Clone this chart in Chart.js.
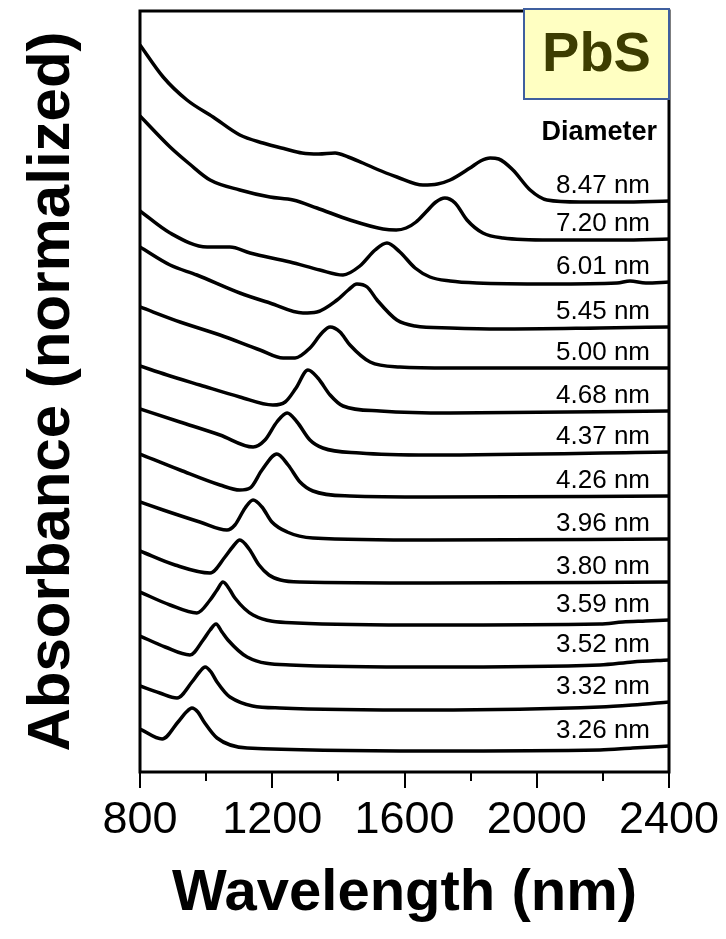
<!DOCTYPE html>
<html>
<head>
<meta charset="utf-8">
<title>PbS absorbance spectra</title>
<script src="https://cdn.jsdelivr.net/npm/chart.js@4.4.1/dist/chart.umd.min.js"></script>
<style>
  html, body { margin: 0; padding: 0; background: #fff; }
</style>
</head>
<body>
<canvas id="absChart" width="726" height="939"></canvas>
<script>
// Quantum dot diameters, top trace first
const diameters = ['8.47 nm', '7.20 nm', '6.01 nm', '5.45 nm', '5.00 nm', '4.68 nm', '4.37 nm',
                   '4.26 nm', '3.96 nm', '3.80 nm', '3.59 nm', '3.52 nm', '3.32 nm', '3.26 nm'];

// Wavelength (nm) / stacked normalized absorbance for each sample
const wl847 = [800, 870, 942, 1021, 1102, 1172, 1240, 1290, 1340, 1390, 1430, 1474, 1530, 1577, 1656, 1700, 1738, 1798, 1830, 1859, 1885, 1928, 1980, 2031, 2131, 2252, 2400];
const abs847 = [14.54, 13.90, 13.44, 13.10, 12.74, 12.58, 12.46, 12.38, 12.36, 12.38, 12.30, 12.18, 12.02, 11.90, 11.74, 11.76, 11.84, 12.08, 12.22, 12.28, 12.26, 12.04, 11.64, 11.44, 11.40, 11.40, 11.42];

const wl720 = [800, 891, 950, 1012, 1102, 1193, 1263, 1335, 1435, 1535, 1575, 1605, 1635, 1665, 1695, 1722, 1753, 1789, 1837, 1898, 2040, 2252, 2400];
const abs720 = [13.12, 12.50, 12.16, 11.84, 11.64, 11.50, 11.44, 11.28, 11.04, 10.86, 10.84, 10.88, 11.00, 11.20, 11.40, 11.48, 11.38, 11.04, 10.78, 10.68, 10.64, 10.64, 10.66];

const wl601 = [800, 891, 1003, 1072, 1133, 1254, 1344, 1414, 1465, 1511, 1547, 1586, 1632, 1677, 1738, 1819, 2040, 2243, 2282, 2330, 2400];
const abs601 = [11.22, 10.78, 10.50, 10.50, 10.38, 10.20, 10.04, 9.94, 10.12, 10.44, 10.58, 10.40, 10.08, 9.90, 9.82, 9.78, 9.76, 9.78, 9.82, 9.78, 9.80];

const wl545 = [800, 891, 972, 1102, 1193, 1293, 1335, 1396, 1430, 1456, 1487, 1517, 1577, 1632, 1738, 1889, 2191, 2400];
const abs545 = [10.50, 10.14, 9.94, 9.58, 9.38, 9.18, 9.20, 9.44, 9.64, 9.76, 9.70, 9.44, 9.04, 8.92, 8.88, 8.86, 8.88, 8.90];

const wl500 = [800, 921, 1042, 1163, 1233, 1269, 1314, 1350, 1375, 1405, 1435, 1496, 1586, 1738, 2400];
const abs500 = [9.30, 9.00, 8.74, 8.44, 8.28, 8.28, 8.48, 8.78, 8.90, 8.80, 8.54, 8.20, 8.10, 8.08, 8.08];

const wl468 = [800, 882, 981, 1102, 1202, 1239, 1272, 1308, 1338, 1375, 1414, 1526, 1738, 2400];
const abs468 = [8.12, 7.94, 7.74, 7.50, 7.34, 7.40, 7.68, 8.04, 7.88, 7.54, 7.32, 7.22, 7.18, 7.22];

const wl437 = [800, 921, 1042, 1142, 1178, 1214, 1245, 1275, 1314, 1353, 1465, 1677, 2400];
const abs437 = [7.26, 7.00, 6.74, 6.50, 6.64, 7.00, 7.18, 7.00, 6.64, 6.48, 6.38, 6.34, 6.40];

const wl426 = [800, 921, 1042, 1102, 1133, 1169, 1214, 1248, 1284, 1323, 1435, 1677, 2400];
const abs426 = [6.36, 6.04, 5.74, 5.64, 5.68, 6.04, 6.36, 6.14, 5.80, 5.62, 5.52, 5.50, 5.52];

const wl396 = [800, 870, 981, 1063, 1087, 1118, 1142, 1169, 1199, 1245, 1323, 1677, 2400];
const abs396 = [5.40, 5.24, 5.00, 4.84, 4.94, 5.28, 5.44, 5.30, 5.00, 4.80, 4.68, 4.64, 4.66];

const wl380 = [800, 906, 1012, 1057, 1080, 1102, 1130, 1160, 1190, 1225, 1284, 1677, 2400];
const abs380 = [4.42, 4.14, 3.98, 4.30, 4.50, 4.64, 4.46, 4.14, 3.94, 3.84, 3.80, 3.78, 3.80];

const wl359 = [800, 891, 972, 1012, 1033, 1051, 1072, 1087, 1142, 1275, 1677, 2191, 2260, 2330, 2400];
const abs359 = [3.60, 3.34, 3.18, 3.44, 3.64, 3.80, 3.64, 3.48, 3.14, 2.98, 2.94, 2.96, 3.00, 3.02, 3.04];

const wl352 = [800, 876, 951, 991, 1012, 1030, 1048, 1066, 1124, 1254, 1677, 2191, 2290, 2400];
const abs352 = [2.72, 2.50, 2.34, 2.64, 2.84, 2.96, 2.80, 2.64, 2.30, 2.14, 2.10, 2.14, 2.20, 2.24];

const wl332 = [800, 860, 912, 957, 980, 997, 1015, 1033, 1072, 1223, 1677, 2191, 2290, 2400];
const abs332 = [1.72, 1.58, 1.48, 1.80, 2.00, 2.10, 2.00, 1.80, 1.50, 1.28, 1.24, 1.30, 1.34, 1.40];

const wl326 = [800, 867, 915, 940, 957, 975, 994, 1033, 1124, 1677, 2191, 2290, 2400];
const abs326 = [0.86, 0.66, 1.00, 1.20, 1.28, 1.20, 1.00, 0.68, 0.48, 0.42, 0.44, 0.48, 0.52];

const xTicks = [800, 1200, 1600, 2000, 2400];
const minorTicks = [1000, 1400, 1800, 2200];

const series = [
  [wl847, abs847], [wl720, abs720], [wl601, abs601], [wl545, abs545], [wl500, abs500],
  [wl468, abs468], [wl437, abs437], [wl426, abs426], [wl396, abs396], [wl380, abs380],
  [wl359, abs359], [wl352, abs352], [wl332, abs332], [wl326, abs326]
];

const FONT = "'Liberation Sans', Arial, sans-serif";

const datasets = series.map(([wl, ab], i) => ({
  label: diameters[i],
  data: wl.map((w, j) => ({ x: w, y: ab[j] })),
  borderColor: '#000',
  borderWidth: 3.5,
  pointRadius: 0,
  cubicInterpolationMode: 'monotone',
  fill: false
}));

// frame, minor ticks, size labels and the PbS badge
const overlay = {
  id: 'overlay',
  afterDraw(chart) {
    const { ctx, chartArea: a, scales: { x, y } } = chart;
    ctx.save();
    ctx.strokeStyle = '#000';
    ctx.lineWidth = 3;
    ctx.strokeRect(a.left, a.top, a.right - a.left, a.bottom - a.top);

    ctx.lineWidth = 2;
    minorTicks.forEach(v => {
      const px = Math.round(x.getPixelForValue(v));
      ctx.beginPath();
      ctx.moveTo(px, a.bottom);
      ctx.lineTo(px, a.bottom + 9);
      ctx.stroke();
    });

    ctx.fillStyle = '#000';
    ctx.textAlign = 'right';
    ctx.textBaseline = 'alphabetic';
    ctx.font = 'bold 27px ' + FONT;
    ctx.fillText('Diameter', a.right - 12, a.top + 129);
    ctx.font = '26px ' + FONT;
    chart.data.datasets.forEach(ds => {
      const last = ds.data[ds.data.length - 1].y;
      ctx.fillText(ds.label, a.right - 19, y.getPixelForValue(last) - 8);
    });

    const bw = 145, bh = 90;
    const bx = a.right - bw, by = a.top - 2;
    ctx.fillStyle = '#ffffc2';
    ctx.fillRect(bx, by, bw, bh);
    ctx.strokeStyle = '#3f5f9f';
    ctx.lineWidth = 2;
    ctx.strokeRect(bx, by, bw, bh);
    ctx.fillStyle = '#3d3d00';
    ctx.textAlign = 'center';
    ctx.textBaseline = 'middle';
    ctx.font = 'bold 56px ' + FONT;
    ctx.fillText('PbS', bx + bw / 2, by + bh / 2 + 2);
    ctx.restore();
  }
};

new Chart(document.getElementById('absChart'), {
  type: 'line',
  data: { datasets },
  options: {
    responsive: false,
    animation: false,
    devicePixelRatio: 1,
    layout: { padding: { top: 11, right: 57, left: 0, bottom: 0 } },
    plugins: { legend: { display: false }, tooltip: { enabled: false } },
    scales: {
      x: {
        type: 'linear',
        min: 800,
        max: 2400,
        afterBuildTicks: scale => { scale.ticks = xTicks.map(v => ({ value: v })); },
        afterFit: scale => { scale.height = 167; },
        grid: { drawOnChartArea: false, tickLength: 16, lineWidth: 2, color: '#000' },
        border: { display: false },
        ticks: {
          color: '#000',
          font: { family: FONT, size: 45 },
          padding: 6,
          maxRotation: 0,
          autoSkip: false,
          callback: v => String(v)
        },
        title: {
          display: true,
          text: 'Wavelength (nm)',
          color: '#000',
          font: { family: FONT, size: 58, weight: 'bold', lineHeight: 1.2 },
          padding: { top: 0, bottom: 10 }
        }
      },
      y: {
        type: 'linear',
        min: 0,
        max: 15.22,
        afterFit: scale => { scale.width = 140; },
        ticks: { display: false },
        grid: { display: false },
        border: { display: false },
        title: {
          display: true,
          text: 'Absorbance (normalized)',
          color: '#000',
          font: { family: FONT, size: 60, weight: 'bold', lineHeight: 1 },
          padding: { top: 22, bottom: 0 }
        }
      }
    }
  },
  plugins: [overlay]
});
</script>
</body>
</html>
